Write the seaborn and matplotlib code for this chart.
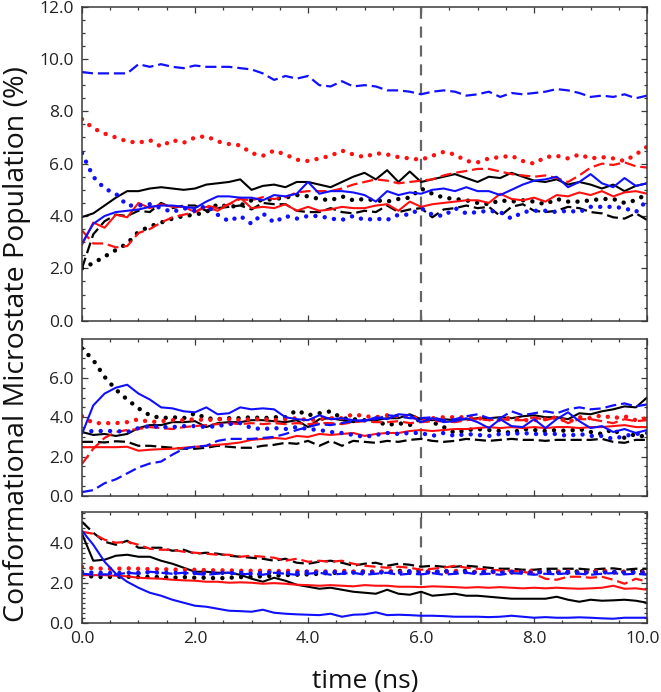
import numpy as np
import matplotlib
matplotlib.use("Agg")
import matplotlib.pyplot as plt
import matplotlib.transforms as mtransforms
import seaborn as sns
from matplotlib.ticker import MultipleLocator, FormatStrFormatter

sns.set_style("ticks")
plt.rcParams['font.family'] = ['Open Sans', 'DejaVu Sans']

time_ns = np.round(np.arange(51) * 0.2, 1)

# ---------------- top panel ----------------
blue_dash_top = [9.5, 9.45, 9.45, 9.45, 9.45, 9.8, 9.7, 9.8, 9.7, 9.65,
                 9.75, 9.7, 9.7, 9.7, 9.65, 9.6, 9.45, 9.2, 9.35, 9.25,
                 9.35, 9.0, 8.95, 9.15, 8.95, 9.0, 8.95, 8.8, 8.8, 8.75,
                 8.65, 8.75, 8.8, 8.75, 8.6, 8.65, 8.75, 8.55, 8.7, 8.65,
                 8.7, 8.75, 8.85, 8.8, 8.7, 8.55, 8.6, 8.55, 8.65, 8.5,
                 8.6]
red_dot_top = [7.7, 7.35, 7.15, 7.0, 6.85, 6.8, 6.9, 6.65, 6.9, 6.8,
               7.0, 7.05, 6.85, 6.75, 6.7, 6.4, 6.3, 6.5, 6.35, 6.15,
               6.1, 6.2, 6.3, 6.5, 6.35, 6.25, 6.4, 6.35, 6.25, 6.2,
               6.15, 6.3, 6.45, 6.35, 6.1, 6.05, 6.2, 6.25, 6.3, 6.1,
               6.0, 6.25, 6.3, 6.2, 6.35, 6.2, 6.25, 6.2, 6.1, 6.35,
               6.65]
black_solid_top = [3.96, 4.1, 4.4, 4.7, 4.95, 4.95, 5.05, 5.1, 5.05, 5.0,
                   5.05, 5.2, 5.25, 5.3, 5.4, 5.0, 5.15, 5.2, 5.1, 5.3,
                   5.3, 5.2, 5.1, 5.3, 5.5, 5.65, 5.4, 5.75, 5.3, 5.7,
                   5.3, 5.4, 5.5, 5.6, 5.45, 5.3, 5.5, 5.45, 5.65, 5.5,
                   5.35, 5.3, 5.4, 5.2, 5.3, 5.2, 5.05, 5.2, 4.95, 5.15,
                   5.25]
blue_solid_top = [2.95, 3.7, 4.0, 4.15, 4.2, 4.25, 4.35, 4.4, 4.4, 4.35,
                  4.3, 4.55, 4.75, 4.75, 4.7, 4.7, 4.6, 4.8, 4.75, 4.85,
                  5.3, 4.85, 4.95, 4.95, 4.9, 4.8, 4.55, 4.95, 4.8, 4.9,
                  4.85, 5.0, 5.05, 4.95, 5.1, 4.95, 4.95, 4.8, 5.0, 5.2,
                  5.35, 5.4, 5.5, 5.1, 5.3, 5.6, 5.25, 5.1, 5.45, 5.15,
                  5.25]
red_solid_top = [2.9, 3.75, 3.55, 4.05, 3.95, 4.5, 4.3, 4.45, 4.35, 4.35,
                 4.15, 4.35, 4.2, 4.45, 4.7, 4.3, 4.35, 4.3, 4.45, 4.2,
                 4.35, 4.2, 4.25, 4.35, 4.3, 4.3, 4.4, 4.45, 4.2, 4.55,
                 4.35, 4.45, 4.5, 4.55, 4.6, 4.6, 4.5, 4.85, 4.65, 4.6,
                 4.7, 4.55, 4.8, 4.75, 4.9, 4.8, 4.95, 4.75, 4.9, 4.95,
                 4.85]
black_dash_top = [2.0, 3.3, 3.8, 4.05, 4.0, 4.2, 4.15, 4.5, 4.3, 4.4,
                  4.4, 4.2, 4.3, 4.35, 4.4, 4.25, 4.5, 4.45, 4.45, 4.2,
                  4.15, 4.15, 4.3, 4.15, 4.1, 4.2, 4.15, 4.4, 4.15, 4.25,
                  4.3, 3.95, 4.25, 4.3, 4.4, 4.3, 4.35, 4.0, 4.35, 4.45,
                  4.2, 4.15, 4.2, 4.35, 4.3, 4.15, 4.1, 3.95, 3.9, 4.1,
                  3.85]
black_dot_top = [2.0, 2.2, 2.45, 2.7, 2.95, 3.4, 3.6, 3.75, 3.9, 4.0,
                 4.05, 4.15, 4.45, 4.35, 4.4, 4.6, 4.6, 4.65, 4.7, 4.8,
                 4.75, 4.65, 4.6, 4.75, 4.6, 4.65, 4.6, 4.55, 4.65, 4.7,
                 5.05, 4.85, 4.7, 4.65, 4.6, 4.5, 4.45, 4.6, 4.55, 4.6,
                 4.55, 4.45, 4.65, 4.55, 4.55, 4.6, 4.65, 4.65, 4.5, 4.6,
                 4.85]
blue_dot_top = [6.4, 5.5, 5.05, 4.85, 4.4, 4.4, 4.45, 4.3, 4.15, 4.3,
                4.2, 4.4, 4.05, 3.8, 4.0, 3.7, 4.1, 3.75, 4.0, 3.9,
                4.0, 4.0, 3.9, 3.85, 4.0, 3.85, 3.9, 3.85, 4.05, 4.05,
                4.3, 4.05, 4.0, 4.3, 4.1, 4.15, 4.2, 4.15, 3.9, 4.15,
                4.2, 4.2, 4.15, 4.2, 4.15, 4.35, 4.35, 4.35, 4.3, 4.15,
                4.6]
red_dash_top = [3.45, 2.95, 2.95, 2.8, 2.85, 3.35, 3.5, 3.75, 3.95, 4.05,
                4.15, 4.4, 4.3, 4.45, 4.65, 4.6, 4.72, 4.65, 4.72, 4.9,
                4.95, 4.95, 4.95, 5.05, 5.2, 5.3, 5.4, 5.35, 5.25, 5.3,
                5.35, 5.4, 5.55, 5.65, 5.72, 5.8, 5.8, 5.7, 5.6, 5.55,
                5.5, 5.55, 5.45, 5.3, 5.55, 5.85, 6.0, 5.95, 6.05, 5.9,
                5.85]

# ---------------- middle panel ----------------
black_dot_mid = [7.5, 6.9, 6.05, 5.4, 4.9, 4.45, 4.1, 3.95, 4.0, 3.95,
                 4.2, 3.95, 3.9, 3.95, 3.95, 4.0, 3.95, 4.0, 4.0, 4.35,
                 4.1, 4.2, 4.3, 3.95, 3.9, 3.85, 3.8, 3.6, 3.7, 3.6,
                 3.93, 3.75, 3.5, 3.2, 3.35, 3.4, 3.35, 3.3, 3.2, 3.4,
                 3.35, 3.3, 3.35, 3.3, 3.4, 3.25, 3.15, 3.4, 2.95, 3.15,
                 2.95]
blue_solid_mid = [3.15, 4.6, 5.2, 5.5, 5.65, 5.2, 4.9, 4.5, 4.45, 4.3,
                  4.25, 4.5, 4.15, 4.2, 4.5, 4.4, 4.45, 4.4, 4.0, 3.9,
                  3.85, 4.1, 3.9, 3.95, 3.85, 3.8, 4.0, 3.9, 4.15, 4.1,
                  3.75, 3.95, 3.75, 3.8, 3.95, 3.75, 3.45, 3.9, 3.55, 3.5,
                  3.9, 3.45, 3.9, 4.25, 3.8, 3.45, 3.55, 3.25, 3.4, 3.2,
                  3.35]
blue_dash_mid = [0.2, 0.3, 0.65, 0.85, 1.15, 1.45, 1.65, 1.75, 2.1, 2.4,
                 2.5, 2.55, 2.8, 2.9, 2.9, 2.9, 2.95, 3.0, 3.15, 3.35,
                 3.5, 3.65, 3.6, 3.7, 3.8, 3.85, 3.9, 4.1, 4.05, 3.95,
                 3.95, 4.0, 3.85, 3.9, 4.05, 4.15, 3.95, 3.95, 4.3, 4.1,
                 4.2, 4.3, 4.2, 4.4, 4.5, 4.4, 4.45, 4.6, 4.7, 4.55,
                 4.65]
red_dot_mid = [4.05, 3.7, 3.7, 3.7, 3.75, 3.9, 3.75, 3.8, 3.85, 3.85,
               3.9, 3.85, 3.9, 3.9, 3.85, 3.9, 3.9, 3.85, 3.9, 3.95,
               3.85, 3.9, 3.95, 3.95, 4.15, 4.05, 4.0, 4.1, 4.05, 4.05,
               3.9, 3.95, 4.0, 4.0, 4.0, 3.95, 3.9, 3.85, 4.0, 3.85,
               3.85, 3.9, 4.0, 3.75, 4.0, 3.95, 4.1, 3.95, 4.05, 3.85,
               3.95]
blue_dot_mid = [3.25, 3.3, 3.3, 3.3, 3.25, 3.45, 3.55, 3.5, 3.5, 3.55,
                3.55, 3.5, 3.55, 3.65, 3.7, 3.45, 3.4, 3.45, 3.4, 3.5,
                3.4, 3.35, 3.25, 3.2, 3.1, 3.0, 3.1, 3.2, 3.15, 3.2,
                3.2, 3.05, 3.2, 3.05, 3.15, 3.1, 3.05, 3.15, 3.15, 3.2,
                3.15, 3.15, 3.15, 3.05, 3.15, 3.05, 3.05, 2.9, 3.05, 3.15,
                3.2]
red_solid_mid = [2.48, 2.48, 2.48, 2.48, 2.5, 2.3, 2.35, 2.38, 2.4, 2.45,
                 2.5, 2.55, 2.6, 2.65, 2.72, 2.85, 2.9, 2.95, 2.9, 3.05,
                 3.0, 3.15, 3.1, 3.15, 3.2, 3.05, 3.15, 3.2, 3.2, 3.3,
                 3.35, 3.3, 3.35, 3.4, 3.4, 3.45, 3.5, 3.45, 3.5, 3.45,
                 3.5, 3.45, 3.5, 3.5, 3.45, 3.5, 3.5, 3.55, 3.6, 3.5,
                 3.5]
red_dash_mid = [1.63, 2.4, 2.95, 3.25, 3.35, 3.4, 3.5, 3.45, 3.4, 3.5,
                3.55, 3.6, 3.65, 3.7, 3.65, 3.7, 3.65, 3.7, 3.65, 3.7,
                3.65, 3.7, 3.7, 3.65, 3.75, 3.8, 3.75, 3.75, 3.8, 3.7,
                3.75, 3.8, 3.8, 3.75, 3.85, 3.9, 3.85, 3.9, 3.85, 3.85,
                4.0, 3.85, 4.0, 3.7, 3.9, 3.9, 3.8, 3.7, 3.9, 3.8,
                3.85]
black_solid_mid = [3.25, 3.1, 3.15, 3.05, 3.15, 3.45, 3.6, 3.6, 3.75, 3.75,
                   3.8, 3.5, 3.7, 3.75, 3.75, 3.85, 3.85, 3.8, 3.75, 3.85,
                   3.5, 3.9, 3.95, 3.85, 3.75, 3.85, 3.85, 3.95, 3.95, 4.15,
                   3.9, 3.85, 3.9, 3.85, 3.9, 3.95, 3.95, 4.0, 3.95, 4.05,
                   4.1, 4.0, 4.0, 3.9, 4.2, 4.15, 4.3, 4.4, 4.55, 4.5,
                   5.0]
black_dash_mid = [2.75, 2.75, 2.72, 2.78, 2.75, 2.55, 2.55, 2.5, 2.45, 2.4,
                  2.4, 2.45, 2.55, 2.5, 2.45, 2.45, 2.55, 2.6, 2.7, 2.65,
                  2.8, 2.55, 2.8, 2.55, 2.8, 2.75, 2.7, 2.8, 2.75, 2.85,
                  2.9, 2.8, 2.75, 2.8, 2.9, 2.85, 2.8, 2.85, 2.9, 2.85,
                  2.85, 2.8, 2.85, 2.85, 2.85, 2.85, 2.9, 2.75, 2.7, 2.85,
                  2.85]

# ---------------- bottom panel ----------------
blue_solid_bot = [4.6, 3.9, 3.05, 2.45, 2.05, 1.75, 1.5, 1.35, 1.15, 1.0,
                  0.85, 0.8, 0.7, 0.6, 0.58, 0.55, 0.65, 0.5, 0.45, 0.42,
                  0.4, 0.38, 0.45, 0.3, 0.4, 0.42, 0.52, 0.38, 0.4, 0.38,
                  0.35, 0.35, 0.33, 0.3, 0.3, 0.3, 0.28, 0.3, 0.35, 0.3,
                  0.25, 0.28, 0.25, 0.25, 0.27, 0.25, 0.22, 0.2, 0.25, 0.25,
                  0.25]
black_solid_bot = [4.45, 3.1, 3.15, 3.35, 3.4, 3.3, 3.3, 3.1, 2.95, 2.75,
                   2.55, 2.55, 2.5, 2.5, 2.4, 2.2, 2.05, 2.25, 2.1, 1.9,
                   1.8, 1.7, 1.75, 1.65, 1.55, 1.5, 1.45, 1.65, 1.45, 1.4,
                   1.55, 1.35, 1.4, 1.45, 1.35, 1.35, 1.3, 1.25, 1.2, 1.2,
                   1.2, 1.2, 1.3, 1.15, 1.05, 1.15, 1.1, 1.12, 1.15, 1.1,
                   1.0]
black_dash_bot = [5.05, 4.5, 4.05, 3.9, 4.1, 3.75, 3.75, 3.75, 3.6, 3.65,
                  3.45, 3.5, 3.45, 3.35, 3.3, 3.25, 3.2, 3.1, 3.2, 3.0,
                  2.95, 3.05, 3.1, 3.0, 2.85, 2.95, 3.0, 2.85, 2.95, 2.9,
                  2.8, 2.85, 2.8, 2.8, 2.85, 2.8, 2.75, 2.7, 2.7, 2.65,
                  2.65, 2.7, 2.7, 2.7, 2.7, 2.65, 2.7, 2.72, 2.65, 2.7,
                  2.7]
red_dash_bot = [4.55, 4.45, 4.15, 4.0, 4.05, 3.9, 3.7, 3.65, 3.65, 3.55,
                3.5, 3.45, 3.4, 3.4, 3.3, 3.35, 3.3, 3.25, 3.1, 3.2,
                3.05, 3.1, 3.05, 3.1, 2.95, 2.85, 2.8, 2.75, 2.8, 2.75,
                2.65, 2.7, 2.75, 2.85, 2.75, 2.7, 2.65, 2.62, 2.6, 2.55,
                2.45, 2.2, 2.15, 2.3, 2.3, 2.25, 2.3, 2.15, 1.95, 2.2,
                2.05]
red_dot_bot = [2.8, 2.72, 2.7, 2.7, 2.72, 2.7, 2.68, 2.68, 2.66, 2.65,
               2.65, 2.63, 2.62, 2.62, 2.6, 2.6, 2.6, 2.58, 2.6, 2.58,
               2.56, 2.58, 2.55, 2.6, 2.55, 2.58, 2.52, 2.6, 2.55, 2.5,
               2.55, 2.58, 2.5, 2.6, 2.52, 2.55, 2.5, 2.58, 2.52, 2.55,
               2.6, 2.5, 2.55, 2.58, 2.5, 2.55, 2.6, 2.52, 2.55, 2.5,
               2.55]
blue_dot_bot = [2.55, 2.5, 2.5, 2.48, 2.5, 2.5, 2.52, 2.5, 2.5, 2.48,
                2.5, 2.45, 2.5, 2.48, 2.5, 2.45, 2.5, 2.52, 2.48, 2.5,
                2.55, 2.5, 2.55, 2.52, 2.5, 2.55, 2.48, 2.55, 2.5, 2.58,
                2.5, 2.52, 2.6, 2.5, 2.55, 2.5, 2.58, 2.5, 2.55, 2.52,
                2.5, 2.55, 2.48, 2.55, 2.5, 2.52, 2.5, 2.55, 2.5, 2.52,
                2.5]
blue_dash_bot = [2.45, 2.4, 2.42, 2.4, 2.5, 2.45, 2.55, 2.5, 2.45, 2.5,
                 2.45, 2.4, 2.45, 2.5, 2.42, 2.45, 2.4, 2.5, 2.45, 2.4,
                 2.45, 2.5, 2.4, 2.45, 2.5, 2.4, 2.45, 2.5, 2.4, 2.45,
                 2.42, 2.48, 2.4, 2.45, 2.5, 2.42, 2.45, 2.4, 2.48, 2.45,
                 2.4, 2.45, 2.42, 2.48, 2.45, 2.4, 2.45, 2.48, 2.42, 2.45,
                 2.4]
black_dot_bot = [2.4, 2.3, 2.28, 2.3, 2.3, 2.28, 2.3, 2.28, 2.25, 2.28,
                 2.25, 2.25, 2.22, 2.25, 2.28, 2.3, 2.32, 2.35, 2.38, 2.4,
                 2.42, 2.45, 2.5, 2.48, 2.55, 2.5, 2.58, 2.5, 2.6, 2.55,
                 2.62, 2.5, 2.58, 2.55, 2.6, 2.5, 2.55, 2.6, 2.52, 2.55,
                 2.5, 2.6, 2.55, 2.5, 2.58, 2.55, 2.6, 2.52, 2.55, 2.6,
                 2.55]
red_solid_bot = [2.38, 2.38, 2.38, 2.35, 2.32, 2.25, 2.22, 2.2, 2.15, 2.12,
                 2.1, 2.05, 2.05, 2.0, 2.02, 2.0, 1.95, 1.98, 1.95, 1.9,
                 1.88, 1.85, 1.88, 1.85, 1.82, 1.88, 1.85, 1.85, 1.8, 1.8,
                 1.78, 1.82, 1.8, 1.78, 1.75, 1.78, 1.75, 1.78, 1.75, 1.72,
                 1.75, 1.72, 1.75, 1.72, 1.7, 1.72, 1.75, 1.85, 1.7, 1.72,
                 1.65]

BLUE, RED, BLACK = '#1010ff', '#ff1010', '#000000'

panels = [
    [(black_solid_top, BLACK, 'solid'), (black_dash_top, BLACK, 'dashed'), (black_dot_top, BLACK, 'dotted'),
     (red_solid_top, RED, 'solid'), (red_dash_top, RED, 'dashed'), (red_dot_top, RED, 'dotted'),
     (blue_solid_top, BLUE, 'solid'), (blue_dash_top, BLUE, 'dashed'), (blue_dot_top, BLUE, 'dotted')],
    [(black_solid_mid, BLACK, 'solid'), (black_dash_mid, BLACK, 'dashed'), (black_dot_mid, BLACK, 'dotted'),
     (red_solid_mid, RED, 'solid'), (red_dash_mid, RED, 'dashed'), (red_dot_mid, RED, 'dotted'),
     (blue_solid_mid, BLUE, 'solid'), (blue_dash_mid, BLUE, 'dashed'), (blue_dot_mid, BLUE, 'dotted')],
    [(black_solid_bot, BLACK, 'solid'), (black_dash_bot, BLACK, 'dashed'), (black_dot_bot, BLACK, 'dotted'),
     (red_solid_bot, RED, 'solid'), (red_dash_bot, RED, 'dashed'), (red_dot_bot, RED, 'dotted'),
     (blue_solid_bot, BLUE, 'solid'), (blue_dash_bot, BLUE, 'dashed'), (blue_dot_bot, BLUE, 'dotted')],
]

line_kw = {
    'solid': dict(linestyle='-', linewidth=1.5),
    'dashed': dict(linestyle=(0, (5.0, 2.2)), linewidth=1.6),
    'dotted': dict(linestyle=(0, (0.01, 2.1)), linewidth=3.2, dash_capstyle='round'),
}

fig = plt.figure(figsize=(6.61, 6.92), dpi=100)
L, W = 0.124, 0.855
ax_top = fig.add_axes([L, 0.5366, W, 0.4538])
ax_mid = fig.add_axes([L, 0.2832, W, 0.2269])
ax_bot = fig.add_axes([L, 0.1001, W, 0.1598])
axes = [ax_top, ax_mid, ax_bot]
ylims = [(0, 12), (0, 7.97), (0, 5.53)]
yminor = [0.5, 0.5, 0.25]
SPINE = '#3a3a3a'

for ax, series, ylim, ymin in zip(axes, panels, ylims, yminor):
    ax.axvline(6.0, color='#666666', linewidth=1.6, linestyle=(0, (5, 3.5)), zorder=1)
    for vals, col, sty in series:
        sns.lineplot(x=time_ns, y=vals, ax=ax, color=col, estimator=None,
                     sort=False, legend=False, zorder=2, **line_kw[sty])
    ax.set_xlim(0, 10)
    ax.set_ylim(*ylim)
    ax.xaxis.set_major_locator(MultipleLocator(2))
    ax.xaxis.set_minor_locator(MultipleLocator(0.5))
    ax.yaxis.set_major_locator(MultipleLocator(2))
    ax.yaxis.set_minor_locator(MultipleLocator(ymin))
    ax.xaxis.set_major_formatter(FormatStrFormatter('%.1f'))
    ax.yaxis.set_major_formatter(FormatStrFormatter('%.1f'))
    ax.tick_params(which='both', direction='in', top=True, right=True,
                   color=SPINE, width=0.9, labelsize=12.5, labelcolor='#222222', pad=6)
    ax.tick_params(which='major', length=4.5)
    ax.tick_params(which='minor', length=2.5)
    for s in ax.spines.values():
        s.set_color(SPINE)
        s.set_linewidth(1.1)
    ax.set_xlabel('')
    ax.set_ylabel('')
    if ax is not ax_bot:
        ax.tick_params(labelbottom=False)

# nudge the last x tick label ("10.0") a little left so it stays inside the figure
fig.canvas.draw()
last = [t for t in ax_bot.get_xticklabels() if t.get_text() == '10.0']
for t in last:
    t.set_transform(t.get_transform() + mtransforms.ScaledTranslation(-4 / 100, 0, fig.dpi_scale_trans))

fig.text(0.552, 0.016, 'time (ns)', ha='center', va='center', fontsize=19, color='#111111')
fig.text(0.026, 0.503, 'Conformational Microstate Population (%)', rotation=90,
         ha='center', va='center', fontsize=20.5, color='#111111')

fig.savefig('out.png', dpi=100)
